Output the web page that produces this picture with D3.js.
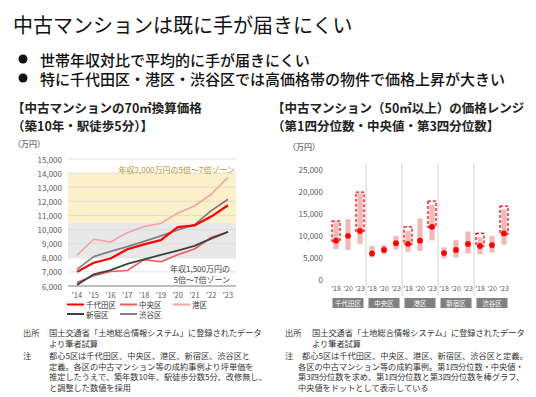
<!DOCTYPE html>
<html>
<head>
<meta charset="utf-8">
<script src="https://cdn.jsdelivr.net/npm/d3@7"></script>
<style>
  html, body { margin: 0; padding: 0; background: #fff; }
  svg { display: block; font-family: "Noto Sans CJK JP", "Noto Sans", sans-serif; }
  .tick-label { font-size: 8px; fill: #595959; }
  .note { font-size: 8.2px; fill: #333; }
</style>
</head>
<body>
<svg id="chart" width="536" height="397"></svg>
<script>
// ---- left chart data (万円, 70㎡換算) ----
var years = ["'14", "'15", "'16", "'17", "'18", "'19", "'20", "'21", "'22", "'23"];
var chiyoda  = [7000, 7650, 7950, 8600, 8950, 9250, 10170, 10290, 10920, 11720];
var chuo     = [6250, 6730, 7030, 7100, 7870, 7720, 8220, 8620, 9450, 9830];
var minato   = [8180, 9310, 9120, 9780, 10220, 10440, 11160, 11670, 12500, 13700];
var shinjuku = [6080, 6830, 7130, 7570, 7890, 8200, 8510, 8840, 9360, 9830];
var shibuya  = [7180, 8080, 8460, 8790, 9170, 9550, 9970, 10330, 11340, 12150];
var leftTicks = [6000, 7000, 8000, 9000, 10000, 11000, 12000, 13000, 14000, 15000];
var zone2000 = [10500, 14000];
var zone1500 = [8000, 10500];

// ---- right chart data (万円, 50㎡以上) ----
var districts = ["千代田区", "中央区", "港区", "新宿区", "渋谷区"];
var rangeYears = ["'18", "'20", "'23"];
// ordered district by district, '18 '20 '23
var q1Values     = [6900, 6700, 8100, 5000, 5800, 6800, 6300, 6500, 8900, 4800, 5000, 5900, 5800, 6100, 7900];
var medianValues = [8800, 9900, 11000, 5900, 6700, 8250, 8100, 8800, 11950, 6000, 6700, 8050, 7600, 7800, 10450];
var q3Values     = [12950, 13700, 19550, 7600, 7800, 9850, 11000, 13850, 16900, 7300, 8950, 10900, 9550, 9850, 15900];
var highlightLow  = [8700, null, 10900, null, null, null, 8000, null, 11900, null, null, null, 7550, null, 10300];
var highlightHigh = [13250, null, 19800, null, null, null, 11950, null, 17800, null, null, null, 10450, null, 16650];
var rightTicks = [0, 5000, 10000, 15000, 20000, 25000];

var svg = d3.select('#chart');
var fmt = d3.format(',');

// ---- heading ----
svg.append('text').attr('x', 13).attr('y', 24).attr('dominant-baseline', 'central')
    .style('font-size', '20px').style('fill', '#111')
    .text('中古マンションは既に手が届きにくい');

var bullets = ['世帯年収対比で平均的に手が届きにくい',
               '特に千代田区・港区・渋谷区では高価格帯の物件で価格上昇が大きい'];
bullets.forEach(function(t, i) {
    var y = 59 + i * 19;
    svg.append('circle').attr('cx', 23).attr('cy', y).attr('r', 4.5).style('fill', '#111');
    svg.append('text').attr('x', 40).attr('y', y).attr('dominant-baseline', 'central')
        .style('font-size', '15px').style('font-weight', 500).style('fill', '#111').text(t);
});

function subtitle(x, lines) {
    lines.forEach(function(t, i) {
        svg.append('text').attr('x', x).attr('y', 107 + i * 18).attr('dominant-baseline', 'central')
            .style('font-size', '12.5px').style('font-weight', 'bold').style('fill', '#222').text(t);
    });
}
subtitle(12, ['【中古マンションの70㎡換算価格', '（築10年・駅徒歩5分）】']);
subtitle(272, ['【中古マンション（50㎡以上）の価格レンジ', '（第1四分位数・中央値・第3四分位数】']);

// ---- left chart ----
var lx0 = 68, lx1 = 236;
var xL = d3.scalePoint().domain(years).range([77, 228]);
var yL = d3.scaleLinear().domain([6000, 15000]).range([286, 159]);
var gL = svg.append('g');

gL.append('text').attr('x', 13).attr('y', 143).attr('dominant-baseline', 'central')
    .style('font-size', '8px').style('fill', '#333').text('（万円）');

gL.append('rect').attr('x', lx0).attr('width', lx1 - lx0)
    .attr('y', yL(zone2000[1])).attr('height', yL(zone2000[0]) - yL(zone2000[1]))
    .style('fill', '#fcf0c9');
gL.append('rect').attr('x', lx0).attr('width', lx1 - lx0)
    .attr('y', yL(zone1500[1])).attr('height', yL(zone1500[0]) - yL(zone1500[1]))
    .style('fill', '#e8e8e8');

gL.selectAll('.grid').data(leftTicks.slice(1)).enter().append('line')
    .attr('x1', lx0).attr('x2', lx1)
    .attr('y1', function(d) { return yL(d) }).attr('y2', function(d) { return yL(d) })
    .style('stroke', '#d9d9d9').style('stroke-width', 0.8);
gL.append('line').attr('x1', lx0).attr('x2', lx1).attr('y1', yL(6000)).attr('y2', yL(6000))
    .style('stroke', '#7f7f7f').style('stroke-width', 1);

gL.selectAll('.ylab').data(leftTicks).enter().append('text')
    .attr('class', 'tick-label').attr('x', 62).attr('y', function(d) { return yL(d) })
    .attr('text-anchor', 'end').attr('dominant-baseline', 'central')
    .text(function(d) { return fmt(d) });
gL.selectAll('.xlab').data(years).enter().append('text')
    .attr('class', 'tick-label').attr('x', function(d) { return xL(d) }).attr('y', 294.5)
    .attr('text-anchor', 'middle').attr('dominant-baseline', 'central')
    .style('font-size', '7.5px')
    .text(function(d) { return d });

gL.append('text').attr('x', 235).attr('y', 169).attr('text-anchor', 'end').attr('dominant-baseline', 'central')
    .style('font-size', '8px').style('fill', '#b8921e').text('年収2,000万円の5倍～7倍ゾーン');
gL.append('text').attr('x', 230).attr('y', 268).attr('text-anchor', 'end').attr('dominant-baseline', 'central')
    .style('font-size', '8px').style('fill', '#404040').text('年収1,500万円の');
gL.append('text').attr('x', 230).attr('y', 279).attr('text-anchor', 'end').attr('dominant-baseline', 'central')
    .style('font-size', '8px').style('fill', '#404040').text('5倍～7倍ゾーン');

var series = [
    { name: '千代田区', values: chiyoda,  color: '#ff0000', width: 2.2 },
    { name: '中央区',   values: chuo,     color: '#ee5a5e', width: 1.6 },
    { name: '港区',     values: minato,   color: '#f4a3a5', width: 1.6 },
    { name: '新宿区',   values: shinjuku, color: '#404040', width: 1.8 },
    { name: '渋谷区',   values: shibuya,  color: '#808080', width: 1.8 }
];
var line = d3.line()
    .x(function(d, i) { return xL(years[i]) })
    .y(function(d) { return yL(d) });
// draw order so that 千代田区 sits on top
[2, 1, 4, 3, 0].forEach(function(k) {
    var s = series[k];
    gL.append('path').attr('d', line(s.values))
        .style('fill', 'none').style('stroke', s.color).style('stroke-width', s.width)
        .style('stroke-linejoin', 'round');
});

var legendPos = [[67, 304.5], [120, 304.5], [173, 304.5], [67, 314], [120, 314]];
series.forEach(function(s, i) {
    var p = legendPos[i];
    gL.append('line').attr('x1', p[0]).attr('x2', p[0] + 17).attr('y1', p[1]).attr('y2', p[1])
        .style('stroke', s.color).style('stroke-width', 2);
    gL.append('text').attr('x', p[0] + 19).attr('y', p[1]).attr('dominant-baseline', 'central')
        .style('font-size', '7.5px').style('fill', '#333').text(s.name);
});

// ---- right chart ----
var yR = d3.scaleLinear().domain([0, 25000]).range([279.5, 169.3]);
var xGroup = d3.scaleBand().domain(districts).range([330, 510]);
var xYear = d3.scalePoint().domain(rangeYears).range([6, 30]);
var gR = svg.append('g');

gR.append('text').attr('x', 288).attr('y', 146).attr('dominant-baseline', 'central')
    .style('font-size', '8px').style('fill', '#333').text('（万円）');

gR.selectAll('.ylab').data(rightTicks).enter().append('text')
    .attr('class', 'tick-label').attr('x', 323).attr('y', function(d) { return yR(d) })
    .attr('text-anchor', 'end').attr('dominant-baseline', 'central')
    .text(function(d) { return fmt(d) });

gR.selectAll('.sep').data(districts.slice(1)).enter().append('line')
    .attr('x1', function(d) { return xGroup(d) }).attr('x2', function(d) { return xGroup(d) })
    .attr('y1', 163).attr('y2', 296)
    .style('stroke', '#d9d9d9').style('stroke-width', 1.2);

var cells = [];
districts.forEach(function(dist, i) {
    rangeYears.forEach(function(yr, j) {
        var k = i * rangeYears.length + j;
        cells.push({ district: dist, year: yr, q1: q1Values[k], med: medianValues[k], q3: q3Values[k],
                     hlo: highlightLow[k], hhi: highlightHigh[k] });
    });
});
function cx(d) { return xGroup(d.district) + xYear(d.year) }

gR.selectAll('.bar').data(cells).enter().append('rect')
    .attr('x', function(d) { return cx(d) - 2.6 }).attr('width', 5.2)
    .attr('y', function(d) { return yR(d.q3) })
    .attr('height', function(d) { return yR(d.q1) - yR(d.q3) })
    .style('fill', '#f4b7b8');

gR.selectAll('.hl').data(cells.filter(function(d) { return d.hlo !== null })).enter().append('rect')
    .attr('x', function(d) { return cx(d) - 4 }).attr('width', 8)
    .attr('y', function(d) { return yR(d.hhi) })
    .attr('height', function(d) { return yR(d.hlo) - yR(d.hhi) })
    .style('fill', 'none').style('stroke', '#ff0000').style('stroke-width', 1.3)
    .style('stroke-dasharray', '3,2');

gR.selectAll('.dot').data(cells).enter().append('circle')
    .attr('cx', cx).attr('cy', function(d) { return yR(d.med) }).attr('r', 2.9)
    .style('fill', '#ff0000');

gR.selectAll('.xlab').data(cells).enter().append('text')
    .attr('class', 'tick-label').attr('x', cx).attr('y', 288)
    .attr('text-anchor', 'middle').attr('dominant-baseline', 'central')
    .style('font-size', '7px')
    .text(function(d) { return d.year });

var boxes = gR.selectAll('.dbox').data(districts).enter().append('g');
boxes.append('rect').attr('x', function(d) { return xGroup(d) + 2.5 })
    .attr('width', xGroup.bandwidth() - 5).attr('y', 298).attr('height', 10)
    .style('fill', '#808080');
boxes.append('text').attr('x', function(d) { return xGroup(d) + xGroup.bandwidth() / 2 })
    .attr('y', 303).attr('text-anchor', 'middle').attr('dominant-baseline', 'central')
    .style('font-size', '6.5px').style('fill', '#fff').text(function(d) { return d });

// ---- notes: label + one multi-line paragraph ----
function note(label, lx, tx, y0, step, lines, indents) {
    svg.append('text').attr('class', 'note').attr('x', lx).attr('y', y0)
        .attr('dominant-baseline', 'central').text(label);
    var t = svg.append('text').attr('class', 'note');
    lines.forEach(function(s, i) {
        t.append('tspan').attr('x', indents ? indents[i] : tx).attr('y', y0 + i * step)
            .attr('dominant-baseline', 'central').text(s);
    });
}
note('出所', 23, 49, 332, 11, ['国土交通省「土地総合情報システム」に登録されたデータ', 'より筆者試算']);
note('注', 23, 49, 355, 10.7, ['都心5区は千代田区、中央区、港区、新宿区、渋谷区と',
    '定義。各区の中古マンション等の成約事例より坪単価を',
    '推定したうえで、築年数10年、駅徒歩分数5分、改修無し、',
    'と調整した数値を採用']);
note('出所', 285, 312, 332, 10.5, ['国土交通省「土地総合情報システム」に登録されたデータ', 'より筆者試算']);
note('注', 285, 298, 355, 10.7, ['都心5区は千代田区、中央区、港区、新宿区、渋谷区と定義。',
    '各区の中古マンション等の成約事例。第1四分位数・中央値・',
    '第3四分位数を求め、第1四分位数と第3四分位数を棒グラフ、',
    '中央値をドットとして表示している'], [302, 298, 298, 298]);
</script>
</body>
</html>
